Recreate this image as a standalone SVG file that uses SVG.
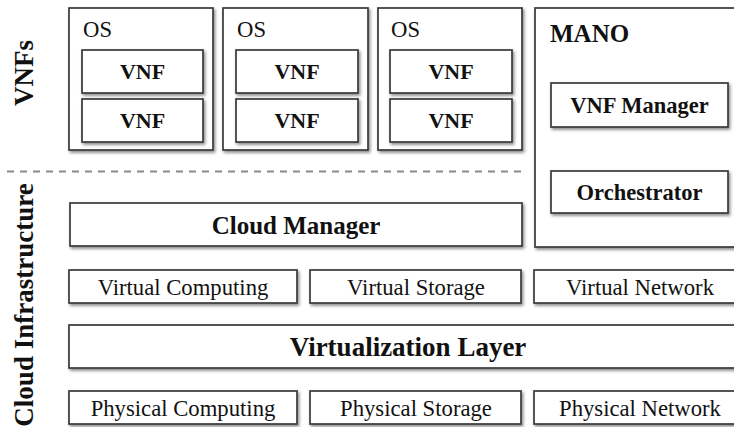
<svg xmlns="http://www.w3.org/2000/svg" width="734" height="427" viewBox="0 0 734 427">
<defs>
<filter id="sh" x="-10%" y="-20%" width="130%" height="150%">
<feDropShadow dx="1.5" dy="2" stdDeviation="1.8" flood-color="#000" flood-opacity="0.45"/>
</filter>
</defs>
<style>
.b{fill:#fff;stroke:#3a3a3a;stroke-width:1.7;filter:url(#sh)}
.t{font-family:"Liberation Serif","Times New Roman",serif;fill:#111}
.r{font-size:22.7px}
.bd{font-weight:bold}
.c{text-anchor:middle}
</style>
<rect width="734" height="427" fill="#fff"/>
<g id="labels">
<text class="t bd c" font-size="27" transform="translate(33,73) rotate(-90)">VNFs</text>
<text class="t bd c" font-size="27" transform="translate(33,305) rotate(-90)">Cloud Infrastructure</text>
</g>
<g id="connectors">
<line x1="7" y1="171.5" x2="522" y2="171.5" stroke="#8a8a8a" stroke-width="2" stroke-dasharray="7,6"/>
</g>
<g id="os1">
<rect class="b" x="69" y="8" width="144" height="142"/>
<text class="t r" x="83" y="37">OS</text>
<g id="vnf1a"><rect class="b" x="82" y="50" width="121" height="43"/><text class="t bd c" font-size="22" x="142.5" y="79">VNF</text></g>
<g id="vnf1b"><rect class="b" x="82" y="99" width="121" height="43"/><text class="t bd c" font-size="22" x="142.5" y="128">VNF</text></g>
</g>
<g id="os2">
<rect class="b" x="223" y="8" width="145" height="142"/>
<text class="t r" x="237" y="37">OS</text>
<g id="vnf2a"><rect class="b" x="236" y="50" width="122" height="43"/><text class="t bd c" font-size="22" x="297" y="79">VNF</text></g>
<g id="vnf2b"><rect class="b" x="236" y="99" width="122" height="43"/><text class="t bd c" font-size="22" x="297" y="128">VNF</text></g>
</g>
<g id="os3">
<rect class="b" x="378" y="8" width="144" height="142"/>
<text class="t r" x="391" y="37">OS</text>
<g id="vnf3a"><rect class="b" x="390" y="50" width="122" height="43"/><text class="t bd c" font-size="22" x="451" y="79">VNF</text></g>
<g id="vnf3b"><rect class="b" x="390" y="99" width="122" height="43"/><text class="t bd c" font-size="22" x="451" y="128">VNF</text></g>
</g>
<g id="mano">
<rect class="b" x="535" y="8" width="220" height="239"/>
<text class="t bd" font-size="25" x="550" y="42">MANO</text>
<g id="vnfm"><rect class="b" x="551" y="83" width="177" height="44"/><text class="t bd c" font-size="22.5" x="639.5" y="112.5">VNF Manager</text></g>
<g id="orch"><rect class="b" x="551" y="171" width="177" height="42"/><text class="t bd c" font-size="22.5" x="639.5" y="200">Orchestrator</text></g>
</g>
<g id="cloudmgr">
<rect class="b" x="70" y="203" width="452" height="43"/>
<text class="t bd c" font-size="25" x="296" y="234">Cloud Manager</text>
</g>
<g id="vcomp"><rect class="b" x="69" y="270" width="228" height="33"/><text class="t r c" x="183" y="295">Virtual Computing</text></g>
<g id="vstor"><rect class="b" x="310" y="270" width="211" height="33"/><text class="t r c" x="416" y="295">Virtual Storage</text></g>
<g id="vnet"><rect class="b" x="534" y="270" width="220" height="33"/><text class="t r c" x="640" y="295">Virtual Network</text></g>
<g id="virt">
<rect class="b" x="69" y="325" width="700" height="43"/>
<text class="t bd c" font-size="27" x="408" y="356">Virtualization Layer</text>
</g>
<g id="pcomp"><rect class="b" x="69" y="391" width="228" height="33"/><text class="t r c" x="183" y="416">Physical Computing</text></g>
<g id="pstor"><rect class="b" x="310" y="391" width="211" height="33"/><text class="t r c" x="416" y="416">Physical Storage</text></g>
<g id="pnet"><rect class="b" x="534" y="391" width="220" height="33"/><text class="t r c" x="640" y="416">Physical Network</text></g>
</svg>
